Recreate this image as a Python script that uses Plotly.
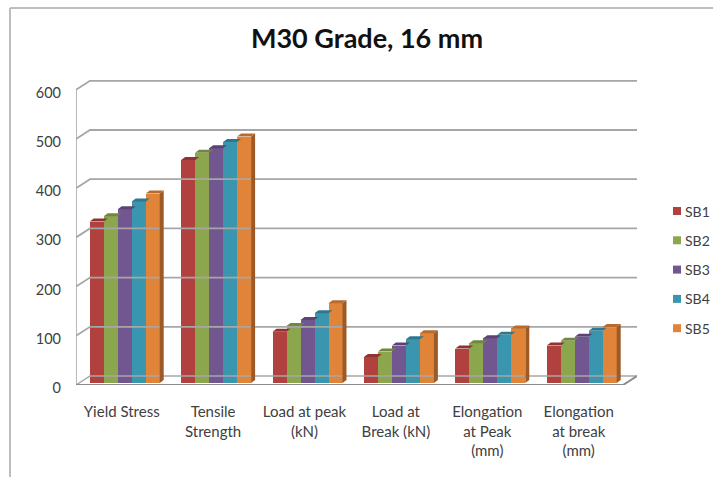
import plotly.graph_objects as go

categories = ["Yield Stress", "Tensile<br>Strength", "Load at peak<br>(kN)", "Load at<br>Break (kN)",
              "Elongation<br>at Peak<br>(mm)", "Elongation<br>at break<br>(mm)"]
series_names = ["SB1", "SB2", "SB3", "SB4", "SB5"]
SB1 = [328, 453, 104, 53, 70, 76]
SB2 = [339, 468, 116, 64, 81, 86]
SB3 = [353, 477, 128, 76, 91, 94]
SB4 = [369, 490, 142, 89, 98, 106]
SB5 = [385, 501, 162, 101, 111, 114]
series_values = [SB1, SB2, SB3, SB4, SB5]
y_ticks = [0, 100, 200, 300, 400, 500, 600]
front_colors = ["#B0413E", "#8CA64E", "#72568F", "#3A96AF", "#E0843A"]
top_colors = ["#8E3330", "#71863E", "#5B4473", "#2E788D", "#B96B2E"]
side_colors = ["#7E2D2B", "#647735", "#503C66", "#29697C", "#9E5A26"]

W, H = 713, 477
PX_L, PX_R = 76, 637
PX_T, PX_B = 80, 385
CAT_W = 91.4              # px per category
PX_PER_UNIT = 49.2 / 100  # px per value unit
DX = 14 / CAT_W           # back wall shift, category units
DY = 9 / PX_PER_UNIT      # back wall shift, value units
LIFT = 2 / PX_PER_UNIT    # bars stand slightly inside the floor
BAR_W = 14 / CAT_W
BAR_SHIFT = 3 / CAT_W
SIDE_X = 4 / CAT_W
SIDE_Y = 3 / PX_PER_UNIT

x_max = (PX_R - PX_L) / CAT_W
y_top = (PX_B - PX_T) / PX_PER_UNIT
GRID = "#A6A6A6"
FONT = "Lato, Open Sans, sans-serif"

fig = go.Figure()

# walls and gridlines
for t in y_ticks:
    fig.add_trace(go.Scatter(x=[0, DX, x_max], y=[t, t + DY, t + DY], mode="lines",
                             line=dict(color=GRID, width=1.8 if t else 1.4), showlegend=False, hoverinfo="skip"))
fig.add_trace(go.Scatter(x=[0, 0], y=[0, 600], mode="lines", line=dict(color=GRID, width=1.6),
                         showlegend=False, hoverinfo="skip"))
fig.add_trace(go.Scatter(x=[0, x_max - DX, x_max], y=[0, 0, DY], mode="lines", line=dict(color="#8C8C8C", width=2),
                         showlegend=False, hoverinfo="skip"))

# bars with their depth faces
for s, (name, vals) in enumerate(zip(series_names, series_values)):
    xs = [c + 0.5 + BAR_SHIFT + (s - 2) * BAR_W for c in range(len(categories))]
    fig.add_trace(go.Bar(x=xs, y=vals, base=LIFT, width=BAR_W, marker=dict(color=front_colors[s], line_width=0),
                         name=name, showlegend=False))
    for x, v in zip(xs, vals):
        l, r, b, t = x - BAR_W / 2, x + BAR_W / 2, LIFT, v + LIFT
        fig.add_trace(go.Scatter(x=[l, l + SIDE_X, r + SIDE_X, r, l], y=[t, t + SIDE_Y, t + SIDE_Y, t, t],
                                 fill="toself", fillcolor=top_colors[s], mode="none",
                                 showlegend=False, hoverinfo="skip"))
        if s == len(series_names) - 1:
            fig.add_trace(go.Scatter(x=[r, r + SIDE_X, r + SIDE_X, r, r],
                                     y=[b, b + SIDE_Y, t + SIDE_Y, t, b],
                                     fill="toself", fillcolor=side_colors[s], mode="none",
                                     showlegend=False, hoverinfo="skip"))

# frame of the picture
shapes = [
    dict(type="line", xref="paper", yref="paper", x0=10 / W, x1=10 / W, y0=0, y1=1 - 8 / H,
         line=dict(color="#BDBDBD", width=2)),
    dict(type="line", xref="paper", yref="paper", x0=10 / W, x1=1, y0=1 - 8 / H, y1=1 - 8 / H,
         line=dict(color="#BDBDBD", width=2)),
]

# legend: small swatch, tight gap, as in the reference
LEG_X, LEG_TOP, LEG_STEP = 677, 211, 29.3
annotations = []
for s, name in enumerate(series_names):
    cy = LEG_TOP + s * LEG_STEP
    shapes.append(dict(type="rect", xref="paper", yref="paper", line_width=0, fillcolor=front_colors[s],
                       x0=(LEG_X - 4) / W, x1=(LEG_X + 4) / W, y0=1 - (cy + 4) / H, y1=1 - (cy - 4) / H))
    annotations.append(dict(text=name, xref="paper", yref="paper", x=685 / W, y=1 - cy / H, xanchor="left",
                            yanchor="middle", showarrow=False, xshift=-1, borderpad=0,
                            font=dict(size=14, color="#404040", family=FONT)))

fig.update_layout(
    width=W, height=H, autosize=False, showlegend=False,
    margin=dict(l=0, r=0, t=0, b=0, autoexpand=False),
    paper_bgcolor="white", plot_bgcolor="white",
    bargap=0, barmode="overlay",
    font=dict(family=FONT, size=14, color="#404040"),
    title=dict(text="<b>M30 Grade, 16 mm</b>", x=367 / W, xanchor="center", y=1 - 39 / H, yanchor="middle",
               font=dict(size=27, color="#111111", family=FONT)),
    xaxis=dict(domain=[PX_L / W, PX_R / W], range=[0, x_max],
               tickmode="array", tickvals=[c + 0.5 for c in range(len(categories))], ticktext=categories,
               showgrid=False, zeroline=False, showline=False, ticks="", tickfont=dict(size=15),
               ticklabelstandoff=16),
    yaxis=dict(domain=[1 - PX_B / H, 1 - PX_T / H], range=[0, y_top],
               tickmode="array", tickvals=y_ticks, ticktext=[str(t) for t in y_ticks],
               showgrid=False, zeroline=False, showline=False, ticks="", tickfont=dict(size=14.5),
               ticklabelstandoff=14, ticklabelshift=3),
    shapes=shapes, annotations=annotations,
)

fig.write_html("out.html", config={"displayModeBar": False},
               post_script="document.body.style.margin='0';document.documentElement.style.overflow='hidden';")
